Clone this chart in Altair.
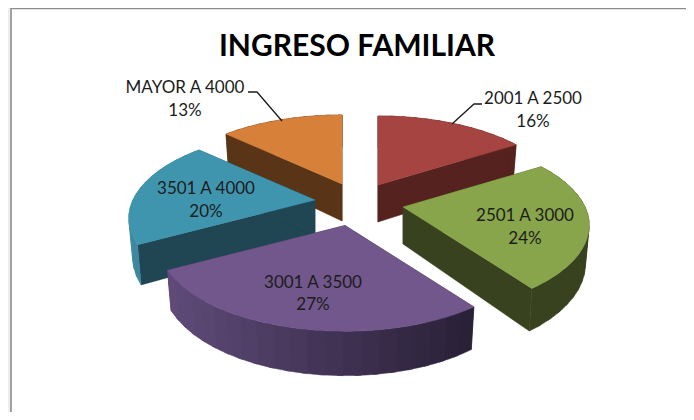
import math
import altair as alt

# ---- chart values
categories = ["2001 A 2500", "2501 A 3000", "3001 A 3500", "3501 A 4000", "MAYOR A 4000"]
percents = [16, 24, 27, 20, 13]
title_text = "INGRESO FAMILIAR"

# ---- styles and layout (page pixels, the page margin is removed below)
top_colors = ["#a54441", "#88a54b", "#71578c", "#4095ae", "#d68039"]
side_colors = ["#562220", "#38421e", "#3c2d50", "#1f4652", "#5a3416"]
arc_left = ["#562220", "#38421e", "#604b7a", "#3f8aa3", "#5a3416"]
arc_right = ["#562220", "#38421e", "#2a2138", "#2f6f85", "#5a3416"]
apex = [(378, 185), (403, 207), (345, 225.5), (315, 200), (342, 184)]
draw_order = [4, 0, 3, 1, 2]
label_pos = [(533, 99), (525, 216), (313, 282.5), (206, 189), (185, 88)]
line_gap = 22.5
leaders = [[(248, 92), (257, 92), (282, 121)], [(482, 104), (474, 104), (452, 124)]]
A, B, K = 182.0, 83.5, 0.21       # tilt and perspective of the pie
DEPTH, SX, SY = 37.0, 0.98, 1.07  # thickness of the pie
MARGIN = 8
W, H = 678, 404


def page(x, y):
    return [x - MARGIN, y - MARGIN]


def rim(theta):
    sx, cy = math.sin(theta), math.cos(theta)
    d = 1 + K * cy
    return A * sx / d, -B * cy / d


def top(i, theta):
    dx, dy = rim(theta)
    return apex[i][0] + dx, apex[i][1] + dy


def low(i, theta):
    dx, dy = rim(theta)
    return apex[i][0] + SX * dx, apex[i][1] + SY * dy + DEPTH


def poly(points, color):
    ring = [page(x, y) for x, y in points]
    ring.append(ring[0])
    return {"type": "Feature", "geometry": {"type": "Polygon", "coordinates": [ring]},
            "properties": {"color": color}}


def mix(c1, c2, t):
    a = [int(c1[j:j + 2], 16) for j in (1, 3, 5)]
    b = [int(c2[j:j + 2], 16) for j in (1, 3, 5)]
    return "#" + "".join(f"{round(p + (q - p) * t):02x}" for p, q in zip(a, b))


bounds = [0.0]
for p in percents:
    bounds.append(bounds[-1] + p / sum(percents) * 2 * math.pi)

features = []
for i in draw_order:
    t0, t1 = bounds[i], bounds[i + 1]
    ax, ay = apex[i]
    low_apex = (ax, ay + DEPTH)
    n = max(4, int((t1 - t0) / math.radians(1.5)))
    ts = [t0 + (t1 - t0) * k / n for k in range(n + 1)]
    # radial walls
    for t in (t0, t1):
        features.append(poly([(ax, ay), top(i, t), low(i, t), low_apex], side_colors[i]))
    # outer wall: overlapping bands shaded from left to right
    xs = [top(i, t)[0] for t in ts]
    xmin, xmax = min(xs), max(xs)
    for k in range(0, n, 3):
        band = ts[k:k + 5]
        f = (top(i, ts[k])[0] - xmin) / max(1.0, xmax - xmin)
        features.append(poly([top(i, t) for t in band] + [low(i, t) for t in reversed(band)],
                             mix(arc_left[i], arc_right[i], f)))
    # top face
    features.append(poly([(ax, ay)] + [top(i, t) for t in ts], top_colors[i]))

projection = alt.Projection(type="identity", scale=1, translate=[0, 0])

frame_fill = alt.Chart(alt.Data(values=[
    poly([(8, 8), (11, 8), (11, 412), (8, 412)], "#eeeeee")
])).mark_geoshape(strokeWidth=0).encode(color=alt.Color("properties.color:N", scale=None))

frame = alt.Chart(alt.Data(values=[
    {"type": "Feature", "properties": {},
     "geometry": {"type": "LineString",
                  "coordinates": [page(11, 412), page(11, 8.5), page(686, 8.5)]}}
])).mark_geoshape(filled=False, stroke="#8c8c8c", strokeWidth=1.6)

pie = alt.Chart(alt.Data(values=features)).mark_geoshape(strokeWidth=0.5).encode(
    color=alt.Color("properties.color:N", scale=None),
    stroke=alt.Color("properties.color:N", scale=None),
)

leader_lines = alt.Chart(alt.Data(values=[
    {"type": "Feature", "properties": {},
     "geometry": {"type": "LineString", "coordinates": [page(x, y) for x, y in pts]}}
    for pts in leaders
])).mark_geoshape(filled=False, stroke="#1a1a1a", strokeWidth=1.3)

rows = []
for name, p, (x, y) in zip(categories, percents, label_pos):
    rows.append({"lon": x - MARGIN, "lat": y - MARGIN, "t": name})
    rows.append({"lon": x - MARGIN, "lat": y - MARGIN + line_gap, "t": f"{p}%"})

labels = alt.Chart(alt.Data(values=rows)).mark_text(
    font="Lato", fontSize=17, color="#1c1c1c", align="center", baseline="middle"
).encode(longitude="lon:Q", latitude="lat:Q", text="t:N")

title = alt.Chart(alt.Data(values=[{"lon": 357 - MARGIN, "lat": 46.5 - MARGIN, "t": title_text}])).mark_text(
    font="Lato", fontSize=30, fontWeight="bold", color="#000000", align="center", baseline="middle"
).encode(longitude="lon:Q", latitude="lat:Q", text="t:N")

chart = alt.layer(frame_fill, frame, pie, leader_lines, labels, title, projection=projection).properties(
    width=W, height=H, padding=0, background="white"
).configure_view(stroke=None)

chart.save("out.html", embed_options={"renderer": "svg", "actions": False})
